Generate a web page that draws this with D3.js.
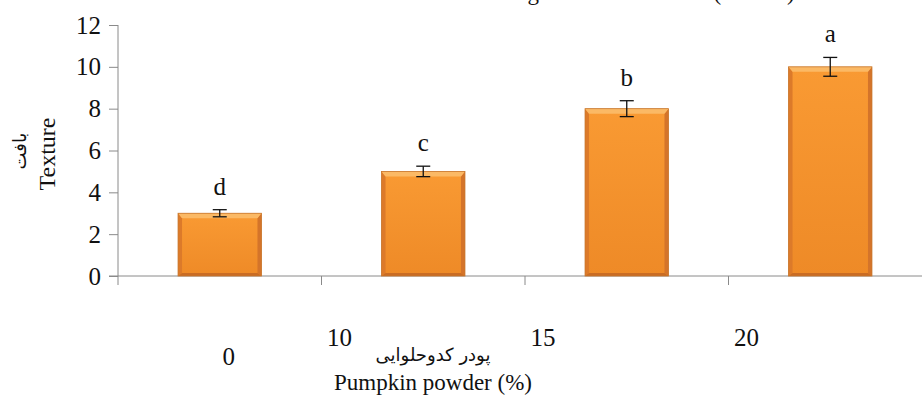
<!DOCTYPE html>
<html>
<head>
<meta charset="utf-8">
<script src="https://cdn.jsdelivr.net/npm/d3@7"></script>
<style>
  html, body { margin: 0; padding: 0; background: #fff; }
  svg { display: block; }
  svg text { font-family: "Liberation Serif", "Times New Roman", serif; fill: #111; }
  svg text.fa { font-family: "DejaVu Sans", "Noto Sans", sans-serif; }
</style>
</head>
<body>
<svg id="chart" width="922" height="396"></svg>
<script>
// Texture score by pumpkin powder level
const categories = ["0", "10", "15", "20"];
const textureMean = [3.0, 5.0, 8.0, 10.0];
const textureErr = [0.17, 0.25, 0.38, 0.45];
const groupLetters = ["d", "c", "b", "a"];
const yTicks = [0, 2, 4, 6, 8, 10, 12];

const serif = '"Liberation Serif", "Times New Roman", serif';
const svg = d3.select("#chart");
const plotLeft = 118, plotRight = 932, plotTop = 25, plotBottom = 276;

const x = d3.scaleBand().domain(categories).range([plotLeft, plotRight]).paddingInner(0.59).paddingOuter(0.295);
const y = d3.scaleLinear().domain([0, 12]).range([plotBottom, plotTop]);

// caption line running off the top edge
svg.append("text")
  .attr("x", 501).attr("y", 0)
  .attr("text-anchor", "middle")
  .attr("font-family", serif)
  .style("font-size", "23px")
  .text("Different letters above bars show significant difference (P<0.05).");

// gradient for the bevelled bars
const defs = svg.append("defs");
const body = defs.append("linearGradient").attr("id", "barBody").attr("x1", 0).attr("y1", 0).attr("x2", 0).attr("y2", 1);
body.append("stop").attr("offset", "0%").attr("stop-color", "#F99A33");
body.append("stop").attr("offset", "100%").attr("stop-color", "#EE8A27");

// y axis
const yAxis = d3.axisLeft(y).tickValues(yTicks).tickSize(9).tickPadding(8);
const gy = svg.append("g").attr("transform", `translate(${plotLeft},0)`).call(yAxis)
  .attr("font-family", serif);
gy.select(".domain").attr("stroke", "#8a8a8a").attr("d", `M0,${plotTop}V${plotBottom}`);
gy.selectAll(".tick line").attr("stroke", "#8a8a8a");
gy.selectAll(".tick text").style("font-size", "25px").attr("fill", "#111");

// x axis line with ticks at category boundaries
const step = x.step();
const gx = svg.append("g");
gx.append("line").attr("x1", plotLeft - 9).attr("x2", plotRight).attr("y1", plotBottom).attr("y2", plotBottom)
  .attr("stroke", "#8a8a8a");
gx.selectAll("line.bound").data(d3.range(categories.length + 1)).join("line")
  .attr("class", "bound")
  .attr("x1", i => plotLeft + i * step).attr("x2", i => plotLeft + i * step)
  .attr("y1", plotBottom).attr("y2", plotBottom + 9)
  .attr("stroke", "#8a8a8a");

// bars
const bars = svg.append("g").selectAll("g.bar").data(categories).join("g").attr("class", "bar");
bars.each(function (c, i) {
  const g = d3.select(this);
  const x0 = x(c), w = x.bandwidth();
  const y0 = y(textureMean[i]), h = plotBottom - y0;
  const bv = 5;
  g.append("rect").attr("x", x0).attr("y", y0).attr("width", w).attr("height", h)
    .attr("fill", "url(#barBody)");
  // side bevels
  g.append("polygon").attr("points", [[x0, y0], [x0 + 4, y0 + bv], [x0 + 4, plotBottom - 3], [x0, plotBottom]].join(" "))
    .attr("fill", "#DC7A2A");
  g.append("polygon").attr("points", [[x0 + w, y0], [x0 + w - 4, y0 + bv], [x0 + w - 4, plotBottom - 3], [x0 + w, plotBottom]].join(" "))
    .attr("fill", "#D4742A");
  // top bevel
  g.append("polygon").attr("points", [[x0, y0], [x0 + w, y0], [x0 + w - 4, y0 + bv], [x0 + 4, y0 + bv]].join(" "))
    .attr("fill", "#FBB965");
  // bottom bevel
  g.append("polygon").attr("points", [[x0, plotBottom], [x0 + w, plotBottom], [x0 + w - 4, plotBottom - 3], [x0 + 4, plotBottom - 3]].join(" "))
    .attr("fill", "#C96C24");
  g.append("rect").attr("x", x0).attr("y", y0).attr("width", w).attr("height", h)
    .attr("fill", "none").attr("stroke", "#C7772F").attr("stroke-width", 0.8);
});

// error bars
const eb = svg.append("g").selectAll("g.err").data(categories).join("g").attr("class", "err");
eb.each(function (c, i) {
  const g = d3.select(this);
  const cx = x(c) + x.bandwidth() / 2;
  const hi = y(textureMean[i] + textureErr[i]), lo = y(textureMean[i] - textureErr[i]);
  g.append("line").attr("x1", cx).attr("x2", cx).attr("y1", hi).attr("y2", lo).attr("stroke", "#111").attr("stroke-width", 1.3);
  g.append("line").attr("x1", cx - 7).attr("x2", cx + 7).attr("y1", hi).attr("y2", hi).attr("stroke", "#111").attr("stroke-width", 1.3);
  g.append("line").attr("x1", cx - 7).attr("x2", cx + 7).attr("y1", lo).attr("y2", lo).attr("stroke", "#111").attr("stroke-width", 1.3);
});

// significance letters
svg.append("g").attr("font-family", serif).selectAll("text").data(categories).join("text")
  .attr("x", c => x(c) + x.bandwidth() / 2)
  .attr("y", (c, i) => y(textureMean[i] + textureErr[i]) - 15)
  .attr("text-anchor", "middle")
  .style("font-size", "25px")
  .text((c, i) => groupLetters[i]);

// category labels
svg.append("g").attr("font-family", serif).selectAll("text").data(categories).join("text")
  .attr("x", (c, i) => i === 0 ? x(c) + x.bandwidth() / 2 + 9 : plotLeft + i * step + 18)
  .attr("y", (c, i) => i === 0 ? 365 : 346)
  .attr("text-anchor", "middle")
  .style("font-size", "25px")
  .text(c => c);

// axis titles
svg.append("text").attr("class", "fa").attr("x", 433).attr("y", 361).attr("text-anchor", "middle")
  .style("font-size", "18px")
  .attr("direction", "rtl")
  .text("پودر کدوحلوایی");
svg.append("text").attr("x", 433).attr("y", 390).attr("text-anchor", "middle")
  .attr("font-family", serif)
  .style("font-size", "23px")
  .text("Pumpkin powder (%)");

svg.append("text").attr("transform", "translate(55,154) rotate(-90)").attr("text-anchor", "middle")
  .attr("font-family", serif)
  .style("font-size", "24px")
  .text("Texture");
svg.append("text").attr("class", "fa").attr("transform", "translate(26,151) rotate(-90)").attr("text-anchor", "middle")
  .style("font-size", "18px")
  .text("بافت");
</script>
</body>
</html>
